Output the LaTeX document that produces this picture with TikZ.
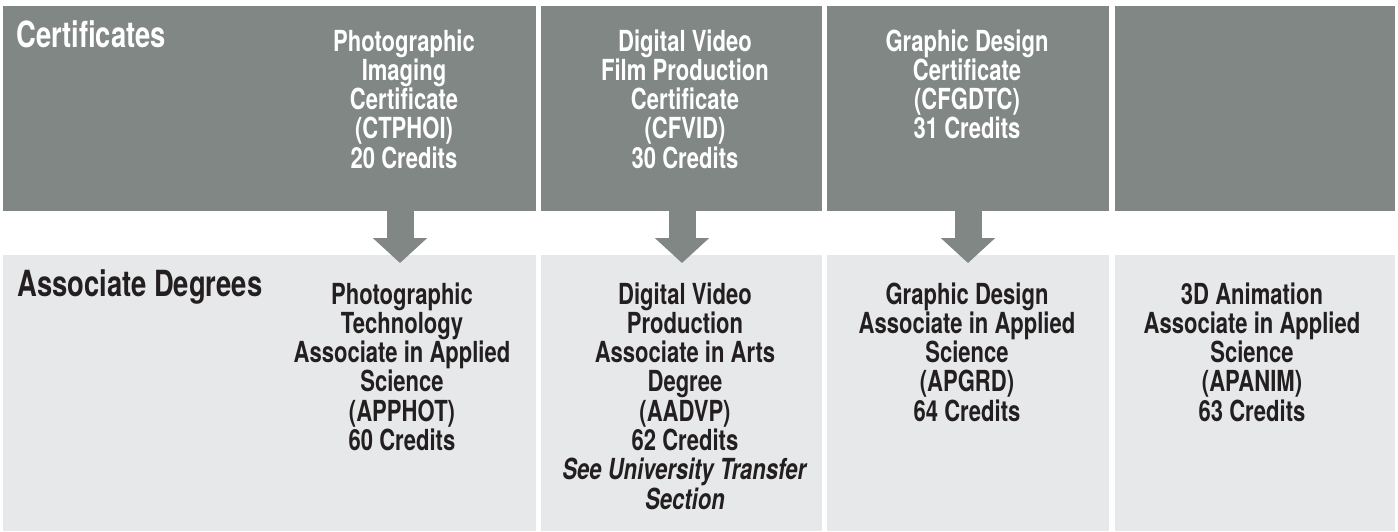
\documentclass[tikz,border=0pt]{standalone}
\usepackage{fontspec}
\setmainfont{TeX Gyre Heros}[FakeStretch=0.76]
\usetikzlibrary{arrows.meta}
\definecolor{certgray}{RGB}{128,135,133}
\definecolor{degreegray}{RGB}{231,232,233}
\definecolor{degreetext}{RGB}{35,31,32}
\begin{document}
\begin{tikzpicture}[x=0.5pt,y=-0.5pt,
  panel/.style={rectangle, inner sep=0pt, outer sep=0pt, anchor=north west},
  cert/.style={panel, fill=certgray, minimum height=102.5pt},
  degree/.style={panel, fill=degreegray, minimum height=138pt},
  heading/.style={anchor=north west, inner sep=0pt, font=\bfseries\fontsize{18}{20}\selectfont},
  entry/.style={anchor=north, inner sep=0pt, align=center, font=\bfseries\fontsize{14.5}{14.65}\selectfont},
  flowarrow/.style={-{Triangle[width=26.5pt,length=12.5pt]}, line width=13.5pt, draw=certgray}]
          \useasboundingbox (0,0) rectangle (1398,531);
          % certificate row
          \node[cert, minimum width=266.5pt] (cert1) at (3,6) {};
          \node[cert, minimum width=140.5pt] (cert2) at (541,6) {};
          \node[cert, minimum width=141pt] (cert3) at (827,6) {};
          \node[cert, minimum width=140pt] (cert4) at (1115,6) {};
          % degree row
          \node[degree, minimum width=266.5pt] (deg1) at (3,255) {};
          \node[degree, minimum width=140.5pt] (deg2) at (541,255) {};
          \node[degree, minimum width=141pt] (deg3) at (827,255) {};
          \node[degree, minimum width=140pt] (deg4) at (1115,255) {};
          % texts
          \node[heading, text=white] (certhead) at (16,20) {Certificates};
          \node[entry, text=white] (photoi) at (404,29) {Photographic\\Imaging\\Certificate\\(CTPHOI)\\20 Credits};
          \node[entry, text=white] (videoc) at (685,29) {Digital Video\\Film Production\\Certificate\\(CFVID)\\30 Credits};
          \node[entry, text=white] (graphc) at (967,29) {Graphic Design\\Certificate\\(CFGDTC)\\31 Credits};
          \node[heading, text=degreetext] (deghead) at (17,269) {Associate Degrees};
          \node[entry, text=degreetext] (photot) at (402,282) {Photographic\\Technology\\Associate in Applied\\Science\\(APPHOT)\\60 Credits};
          \node[entry, text=degreetext] (videop) at (685,282) {Digital Video\\Production\\Associate in Arts\\Degree\\(AADVP)\\62 Credits\\\textit{See University Transfer}\\\textit{Section}};
          \node[entry, text=degreetext] (graphd) at (967,282) {Graphic Design\\Associate in Applied\\Science\\(APGRD)\\64 Credits};
          \node[entry, text=degreetext] (anim) at (1252,282) {3D Animation\\Associate in Applied\\Science\\(APANIM)\\63 Credits};
          % arrows
          \coordinate (tip1) at (400,263);
          \coordinate (tip2) at (682,263);
          \coordinate (tip3) at (968,263);
          \draw[flowarrow] (cert1.south -| tip1) -- (tip1);
          \draw[flowarrow] (cert2.south -| tip2) -- (tip2);
          \draw[flowarrow] (cert3.south -| tip3) -- (tip3);
        \end{tikzpicture}
\end{document}
